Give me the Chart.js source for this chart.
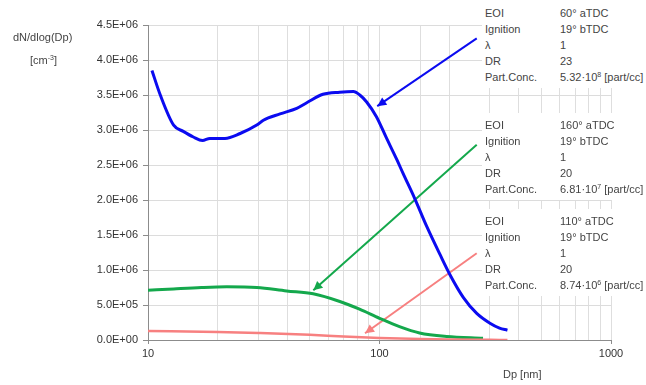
<!DOCTYPE html>
<html>
<head>
<meta charset="utf-8">
<script src="https://cdn.jsdelivr.net/npm/chart.js@4/dist/chart.umd.min.js"></script>
<style>
  html, body { margin: 0; padding: 0; background: #fff; }
  #wrap { position: relative; width: 646px; height: 385px; overflow: hidden; font-family: "Liberation Sans", Arial, sans-serif; }
  canvas { position: absolute; left: 0; top: 0; }
  .box { position: absolute; left: 482px; width: 164px; background: #fff; color: #444; font-size: 11px; }
  .row { position: relative; height: 16px; line-height: 16px; white-space: nowrap; }
  .row .k { position: absolute; left: 3px; }
  .row .v { position: absolute; left: 78px; }
  sup { font-size: 7px; line-height: 0; vertical-align: 4px; }
  .lbl { position: absolute; color: #444; font-size: 11px; white-space: nowrap; }
</style>
</head>
<body>
<div id="wrap">
  <canvas id="c" width="646" height="385"></canvas>
</div>
<script>
// ---- data ----
const blueDp = [10.4, 11.3, 12.9, 14.2, 15.7, 17.2, 18.5, 21.5, 25, 29.5, 31.5, 37.2, 43.9, 48.5, 57, 67.3, 77.1, 82.2, 88, 97, 107, 118.7, 126.4, 142, 159.6, 182, 201, 230, 263, 300, 330, 357];
const blueN  = [3.85e6, 3.5e6, 3.07e6, 2.98e6, 2.90e6, 2.85e6, 2.88e6, 2.88e6, 2.95e6, 3.07e6, 3.14e6, 3.23e6, 3.31e6, 3.39e6, 3.51e6, 3.54e6, 3.55e6, 3.50e6, 3.40e6, 3.19e6, 2.89e6, 2.58e6, 2.38e6, 2.02e6, 1.63e6, 1.23e6, 0.94e6, 0.61e6, 0.38e6, 0.24e6, 0.17e6, 0.14e6];

const greenDp = [10, 12.9, 17, 21.9, 29.5, 39.7, 51.7, 67.4, 82, 100, 122, 149, 195, 280];
const greenN  = [0.71e6, 0.73e6, 0.75e6, 0.76e6, 0.75e6, 0.70e6, 0.66e6, 0.55e6, 0.44e6, 0.31e6, 0.19e6, 0.10e6, 0.05e6, 0.024e6];

const pinkDp = [10, 20, 30, 50, 70, 100, 150, 200, 300, 357];
const pinkN  = [0.13e6, 0.115e6, 0.10e6, 0.075e6, 0.05e6, 0.03e6, 0.015e6, 0.008e6, 0.002e6, 0];

// arrows: [tail, head]
const blueArrowDp  = [263, 97.8];
const blueArrowN   = [4.31e6, 3.34e6];
const greenArrowDp = [263, 51.8];
const greenArrowN  = [2.79e6, 0.71e6];
const pinkArrowDp  = [263, 86.6];
const pinkArrowN   = [1.24e6, 0.096e6];

const xTickLabels = [10, 100, 1000];
const yMin = 0, yMax = 4.5e6, yStep = 5e5;

const infoLabels = ["EOI", "Ignition", "λ", "DR", "Part.Conc."];
const info1 = ["60° aTDC", "19° bTDC", "1", "23", "5.32·10<sup>8</sup> [part/cc]"];
const info2 = ["160° aTDC", "19° bTDC", "1", "20", "6.81·10<sup>7</sup> [part/cc]"];
const info3 = ["110° aTDC", "19° bTDC", "1", "20", "8.74·10<sup>6</sup> [part/cc]"];

const BLUE = '#0b0bf0', GREEN = '#14a84c', PINK = '#f78080';

function pts(xs, ys) { return xs.map((x, i) => ({ x: x, y: ys[i] })); }
function sci(v) {
  const s = Number(v).toExponential(1);
  const parts = s.split('e');
  const e = parseInt(parts[1], 10);
  return parts[0] + 'E' + (e < 0 ? '-' : '+') + String(Math.abs(e)).padStart(2, '0');
}
function isMajorLog(v) { const l = Math.log10(v); return Math.abs(l - Math.round(l)) < 1e-9; }

const arrowHeads = {
  id: 'arrowHeads',
  afterDatasetsDraw(chart) {
    const ctx = chart.ctx;
    chart.data.datasets.forEach((ds, i) => {
      if (!ds.isArrow) return;
      const meta = chart.getDatasetMeta(i);
      const a = meta.data[0], b = meta.data[1];
      const ang = Math.atan2(b.y - a.y, b.x - a.x);
      const L = 9, W = 4.5;
      ctx.save();
      ctx.fillStyle = ds.borderColor;
      ctx.beginPath();
      ctx.moveTo(b.x, b.y);
      ctx.lineTo(b.x - L * Math.cos(ang) + W * Math.sin(ang), b.y - L * Math.sin(ang) - W * Math.cos(ang));
      ctx.lineTo(b.x - L * Math.cos(ang) - W * Math.sin(ang), b.y - L * Math.sin(ang) + W * Math.cos(ang));
      ctx.closePath();
      ctx.fill();
      ctx.restore();
    });
  }
};

function lineDs(data, color, width, extra) {
  return Object.assign({
    data: data, borderColor: color, backgroundColor: color, borderWidth: width,
    pointRadius: 0, fill: false, tension: 0.35, cubicInterpolationMode: 'monotone'
  }, extra || {});
}

new Chart(document.getElementById('c'), {
  type: 'line',
  data: {
    datasets: [
      lineDs(pts(pinkDp, pinkN), PINK, 2.5),
      lineDs(pts(greenDp, greenN), GREEN, 3),
      lineDs(pts(blueDp, blueN), BLUE, 3),
      lineDs(pts(blueArrowDp, blueArrowN), BLUE, 2, { tension: 0, cubicInterpolationMode: 'default', isArrow: true }),
      lineDs(pts(greenArrowDp, greenArrowN), GREEN, 2, { tension: 0, cubicInterpolationMode: 'default', isArrow: true }),
      lineDs(pts(pinkArrowDp, pinkArrowN), PINK, 2, { tension: 0, cubicInterpolationMode: 'default', isArrow: true })
    ]
  },
  options: {
    responsive: false,
    devicePixelRatio: 1,
    animation: false,
    parsing: true,
    layout: { padding: { left: 0, right: 35, top: 25, bottom: 0 } },
    plugins: { legend: { display: false }, tooltip: { enabled: false } },
    scales: {
      x: {
        type: 'logarithmic', min: 10, max: 1000,
        afterFit(s) { s.height = 45; },
        border: { color: '#8c8c8c', width: 1 },
        grid: {
          color: '#dedede', lineWidth: 1, tickLength: 4,
          tickColor: (c) => (c.tick && isMajorLog(c.tick.value)) ? '#8c8c8c' : 'rgba(0,0,0,0)'
        },
        ticks: {
          autoSkip: false, maxRotation: 0, padding: 3, color: '#333',
          font: { family: '"Liberation Sans", Arial, sans-serif', size: 11 },
          callback: (v) => (isMajorLog(v) && xTickLabels.some(t => Math.abs(t - v) < 1e-6)) ? String(Math.round(v)) : ''
        }
      },
      y: {
        type: 'linear', min: yMin, max: yMax,
        afterFit(s) { s.width = 148; },
        border: { color: '#8c8c8c', width: 1 },
        grid: { color: '#dcdcdc', lineWidth: 1, tickLength: 5, tickColor: '#8c8c8c' },
        ticks: {
          stepSize: yStep, padding: 5, color: '#333',
          font: { family: '"Liberation Sans", Arial, sans-serif', size: 11 },
          callback: (v) => sci(v)
        }
      }
    }
  },
  plugins: [arrowHeads]
});

// text overlays
const wrap = document.getElementById('wrap');
function addBox(top, values) {
  const d = document.createElement('div');
  d.className = 'box';
  d.style.top = top + 'px';
  d.style.paddingTop = '4px';
  d.style.paddingBottom = '3px';
  infoLabels.forEach((k, i) => {
    const r = document.createElement('div');
    r.className = 'row';
    r.innerHTML = '<span class="k">' + k + '</span><span class="v">' + values[i] + '</span>';
    d.appendChild(r);
  });
  wrap.appendChild(d);
}
addBox(1, info1);
addBox(113, info2);
addBox(209, info3);

function addLabel(html, left, top) {
  const d = document.createElement('div');
  d.className = 'lbl';
  d.style.left = left + 'px';
  d.style.top = top + 'px';
  d.innerHTML = html;
  wrap.appendChild(d);
}
addLabel('dN/dlog(Dp)', 13, 31);
addLabel('[cm<sup>-3</sup>]', 30, 54);
addLabel('Dp [nm]', 503, 368);
</script>
</body>
</html>
